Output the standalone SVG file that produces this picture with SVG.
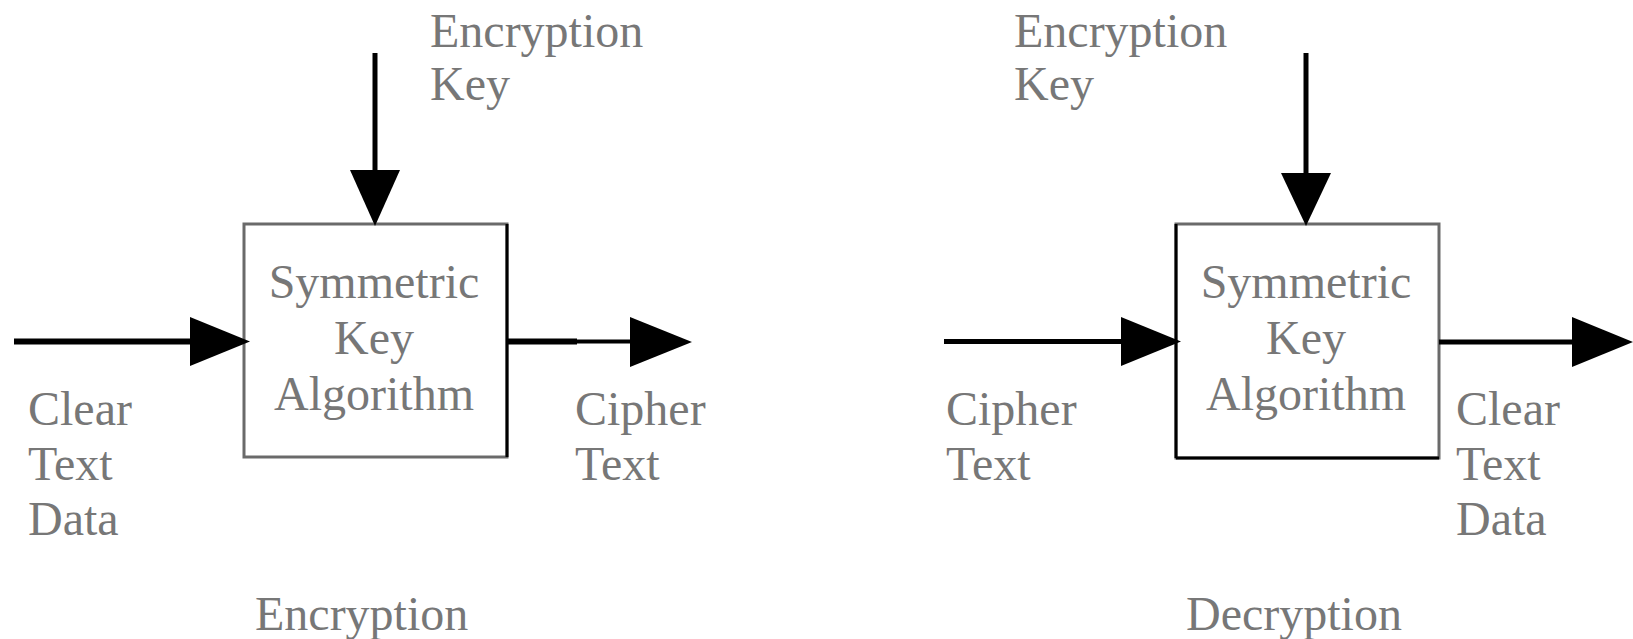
<svg xmlns="http://www.w3.org/2000/svg" width="1633" height="639" viewBox="0 0 1633 639">
  <style>
    .lbl { font-family: 'Liberation Serif', 'Times New Roman', serif; font-size: 48px; fill: #777777; }
    .mid { text-anchor: middle; }
    .box { fill: #ffffff; stroke: #6a6a6a; stroke-width: 3; }
    .edge { stroke: #000000; stroke-width: 3; }
    .wire { stroke: #000000; fill: none; }
    .head { fill: #000000; }
  </style>
  <rect width="1633" height="639" fill="#ffffff"/>

  <!-- encryption side -->
  <g id="enc-algorithm">
    <rect class="box" x="244" y="224" width="263" height="233"/>
    <line class="edge" x1="507" y1="224" x2="507" y2="457"/>
    <text class="lbl mid" x="374" y="298">Symmetric</text>
    <text class="lbl mid" x="374" y="354">Key</text>
    <text class="lbl mid" x="374" y="410">Algorithm</text>
  </g>
  <g id="enc-key">
    <text class="lbl" x="430" y="47">Encryption</text>
    <text class="lbl" x="430" y="100">Key</text>
  </g>
  <g id="enc-input">
    <text class="lbl" x="28" y="425">Clear</text>
    <text class="lbl" x="28" y="480">Text</text>
    <text class="lbl" x="28" y="535">Data</text>
  </g>
  <g id="enc-output">
    <text class="lbl" x="575" y="425">Cipher</text>
    <text class="lbl" x="575" y="480">Text</text>
  </g>
  <g id="enc-title">
    <text class="lbl" x="255" y="630">Encryption</text>
  </g>

  <!-- decryption side -->
  <g id="dec-algorithm">
    <rect class="box" x="1176" y="224" width="263" height="234"/>
    <line class="edge" x1="1176" y1="224" x2="1176" y2="458"/>
    <line class="edge" x1="1176" y1="458" x2="1439" y2="458"/>
    <text class="lbl mid" x="1306" y="298">Symmetric</text>
    <text class="lbl mid" x="1306" y="354">Key</text>
    <text class="lbl mid" x="1306" y="410">Algorithm</text>
  </g>
  <g id="dec-key">
    <text class="lbl" x="1014" y="47">Encryption</text>
    <text class="lbl" x="1014" y="100">Key</text>
  </g>
  <g id="dec-input">
    <text class="lbl" x="946" y="425">Cipher</text>
    <text class="lbl" x="946" y="480">Text</text>
  </g>
  <g id="dec-output">
    <text class="lbl" x="1456" y="425">Clear</text>
    <text class="lbl" x="1456" y="480">Text</text>
    <text class="lbl" x="1456" y="535">Data</text>
  </g>
  <g id="dec-title">
    <text class="lbl" x="1186" y="630">Decryption</text>
  </g>

  <!-- connectors -->
  <g id="connectors">
    <!-- encryption -->
    <line class="wire" stroke-width="5" x1="375" y1="53" x2="375" y2="172"/>
    <polygon class="head" points="350,170 400,170 375,226"/>
    <line class="wire" stroke-width="6" x1="14" y1="341.5" x2="192" y2="341.5"/>
    <polygon class="head" points="190,317 190,366 250,341.5"/>
    <line class="wire" stroke-width="6" x1="507" y1="341.5" x2="577" y2="341.5"/>
    <line class="wire" stroke-width="4" x1="577" y1="341.5" x2="632" y2="341.5"/>
    <polygon class="head" points="630,317 630,367 692,342"/>
    <!-- decryption -->
    <line class="wire" stroke-width="5" x1="1306" y1="53" x2="1306" y2="175"/>
    <polygon class="head" points="1281,173 1331,173 1306,226"/>
    <line class="wire" stroke-width="5" x1="944" y1="341.5" x2="1123" y2="341.5"/>
    <polygon class="head" points="1121,317 1121,366 1181,341.5"/>
    <line class="wire" stroke-width="5" x1="1439" y1="342" x2="1574" y2="342"/>
    <polygon class="head" points="1572,317 1572,367 1633,342"/>
  </g>
</svg>
